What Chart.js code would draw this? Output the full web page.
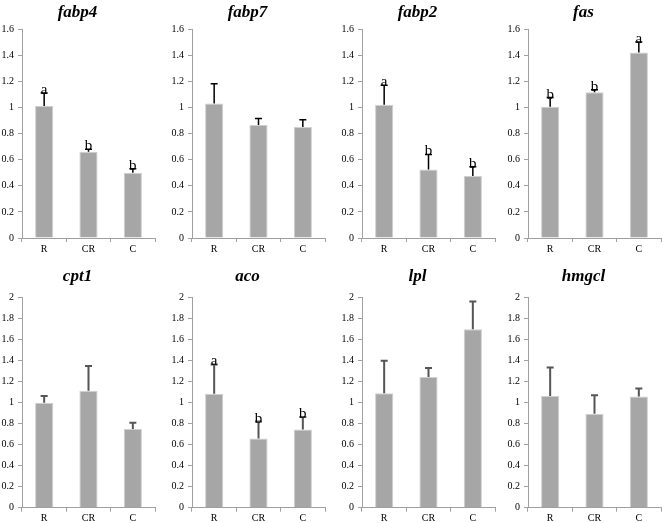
<!DOCTYPE html>
<html>
<head>
<meta charset="utf-8">
<script src="https://cdn.jsdelivr.net/npm/chart.js@4.4.1/dist/chart.umd.min.js"></script>
<style>
html, body { margin: 0; padding: 0; background: #fff; overflow: hidden; }
#wrap { position: relative; width: 662px; height: 523px; }
#wrap canvas { position: absolute; }
</style>
</head>
<body>
<div id="wrap"></div>
<script>
////////////////////////////////////////////////////////////////////////////////
// data
////////////////////////////////////////////////////////////////////////////////
const GROUPS = ["R", "CR", "C"];

const fabp4 = [1.01, 0.66, 0.50];
const fabp4Err = [0.10, 0.02, 0.03];
const fabp4Sig = ["a", "b", "b"];

const fabp7 = [1.03, 0.865, 0.85];
const fabp7Err = [0.15, 0.05, 0.055];
const fabp7Sig = [];

const fabp2 = [1.02, 0.525, 0.475];
const fabp2Err = [0.15, 0.115, 0.07];
const fabp2Sig = ["a", "b", "b"];

const fas = [1.005, 1.115, 1.42];
const fasErr = [0.07, 0.02, 0.08];
const fasSig = ["b", "b", "a"];

const cpt1 = [1.0, 1.115, 0.75];
const cpt1Err = [0.065, 0.235, 0.06];
const cpt1Sig = [];

const aco = [1.085, 0.66, 0.745];
const acoErr = [0.28, 0.16, 0.12];
const acoSig = ["a", "b", "b"];

const lpl = [1.09, 1.245, 1.70];
const lplErr = [0.31, 0.085, 0.265];
const lplSig = [];

const hmgcl = [1.065, 0.895, 1.06];
const hmgclErr = [0.27, 0.175, 0.075];
const hmgclSig = [];

const TOP_TICKS = { max: 1.6, step: 0.2 };
const BOTTOM_TICKS = { max: 2, step: 0.2 };

const panels = [
    { name: "fabp4", mean: fabp4, err: fabp4Err, sig: fabp4Sig, row: 0, col: 0 },
    { name: "fabp7", mean: fabp7, err: fabp7Err, sig: fabp7Sig, row: 0, col: 1 },
    { name: "fabp2", mean: fabp2, err: fabp2Err, sig: fabp2Sig, row: 0, col: 2 },
    { name: "fas",   mean: fas,   err: fasErr,   sig: fasSig,   row: 0, col: 3 },
    { name: "cpt1",  mean: cpt1,  err: cpt1Err,  sig: cpt1Sig,  row: 1, col: 0 },
    { name: "aco",   mean: aco,   err: acoErr,   sig: acoSig,   row: 1, col: 1 },
    { name: "lpl",   mean: lpl,   err: lplErr,   sig: lplSig,   row: 1, col: 2 },
    { name: "hmgcl", mean: hmgcl, err: hmgclErr, sig: hmgclSig, row: 1, col: 3 },
];

////////////////////////////////////////////////////////////////////////////////
// layout
////////////////////////////////////////////////////////////////////////////////
const COL_LEFT = [0, 170, 340, 506];
const CANVAS_W = 157;
const ROWS = [
    { top: 0,   height: 256, xHeight: 18,   titlePad: { top: 2, bottom: 6.6 }, ticks: TOP_TICKS,    errColor: "#000",    errWidth: 1.5 },
    { top: 256, height: 267, xHeight: 15.3, titlePad: { top: 10.8, bottom: 10.5 }, ticks: BOTTOM_TICKS, errColor: "#555", errWidth: 2 },
];
const SERIF = "'Liberation Serif', 'Times New Roman', serif";
const AXIS_GRAY = "#a0a0a0";

////////////////////////////////////////////////////////////////////////////////
// error bars + significance letters
////////////////////////////////////////////////////////////////////////////////
const errorBarPlugin = {
    id: "errorBars",
    afterDatasetsDraw(chart){
        const ctx = chart.ctx;
        const ds = chart.data.datasets[0];
        const meta = chart.getDatasetMeta(0);
        const yScale = chart.scales.y;
        ctx.save();
        ctx.strokeStyle = ds.errColor;
        ctx.lineWidth = ds.errWidth;
        meta.data.forEach((bar, i)=>{
            const top = yScale.getPixelForValue(ds.data[i] + ds.errors[i]);
            ctx.beginPath();
            ctx.moveTo(bar.x, bar.y);
            ctx.lineTo(bar.x, top);
            ctx.moveTo(bar.x - 3.5, top);
            ctx.lineTo(bar.x + 3.5, top);
            ctx.stroke();
            if(ds.letters[i]){
                ctx.fillStyle = "#000";
                ctx.font = "15px " + SERIF;
                ctx.textAlign = "center";
                ctx.textBaseline = "alphabetic";
                ctx.fillText(ds.letters[i], bar.x, top + 1);
            }
        });
        ctx.restore();
    }
};

////////////////////////////////////////////////////////////////////////////////
// charts
////////////////////////////////////////////////////////////////////////////////
const createPanel = (p)=>{
    const row = ROWS[p.row];
    const canvas = document.createElement("canvas");
    canvas.width = CANVAS_W;
    canvas.height = row.height;
    canvas.style.left = COL_LEFT[p.col] + "px";
    canvas.style.top = row.top + "px";
    document.querySelector("#wrap").appendChild(canvas);

    new Chart(canvas, {
        type: "bar",
        data: {
            labels: GROUPS,
            datasets: [{
                data: p.mean,
                errors: p.err,
                letters: p.sig,
                errColor: row.errColor,
                errWidth: row.errWidth,
                backgroundColor: "#a6a6a6",
                borderColor: "#cfcfcf",
                borderWidth: 1,
                categoryPercentage: 1,
                barPercentage: 0.41,
            }],
        },
        options: {
            responsive: false,
            animation: false,
            layout: { padding: { left: 0, right: 2, top: 0, bottom: 0 } },
            plugins: {
                legend: { display: false },
                tooltip: { enabled: false },
                title: {
                    display: true,
                    text: p.name,
                    color: "#000",
                    font: { family: SERIF, size: 17, weight: "bold", style: "italic", lineHeight: 1.2 },
                    padding: row.titlePad,
                },
            },
            scales: {
                x: {
                    grid: { display: true, drawOnChartArea: false, drawTicks: true, tickLength: 4, color: AXIS_GRAY, offset: true },
                    border: { display: true, color: AXIS_GRAY, width: 1 },
                    ticks: { color: "#000", font: { family: SERIF, size: 10 }, padding: 1, maxRotation: 0 },
                    afterFit: (scale)=>{ scale.height = row.xHeight; },
                },
                y: {
                    min: 0,
                    max: row.ticks.max,
                    grid: { display: true, drawOnChartArea: false, drawTicks: true, tickLength: 4, color: AXIS_GRAY },
                    border: { display: true, color: AXIS_GRAY, width: 1 },
                    ticks: {
                        stepSize: row.ticks.step,
                        color: "#000",
                        font: { family: SERIF, size: 10 },
                        padding: 4,
                        callback: (v)=> String(+v.toFixed(1)),
                    },
                    afterFit: (scale)=>{ scale.width = 22; },
                },
            },
        },
        plugins: [errorBarPlugin],
    });
};

panels.forEach(createPanel);
</script>
</body>
</html>
